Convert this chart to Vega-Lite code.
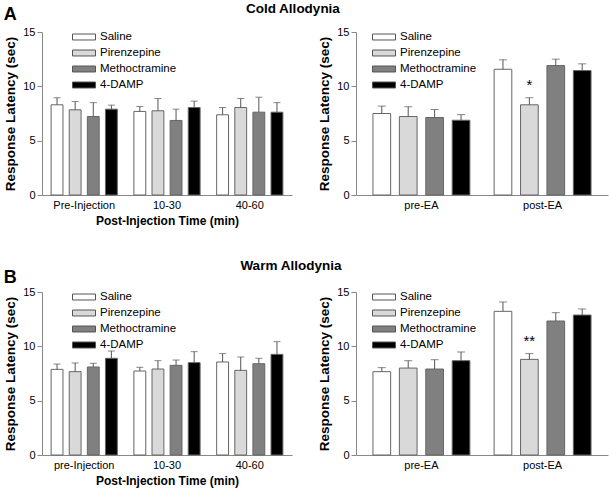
{
  "$schema": "https://vega.github.io/schema/vega-lite/v6.json",
  "padding": {"left": 3, "top": 1, "right": 2, "bottom": 2},
  "datasets": {
    "d": [
      {"panel": "cold_time", "group": "Pre-Injection", "treatment": "Saline", "mean": 8.3, "hi": 8.95},
      {"panel": "cold_time", "group": "Pre-Injection", "treatment": "Pirenzepine", "mean": 7.84, "hi": 8.6},
      {"panel": "cold_time", "group": "Pre-Injection", "treatment": "Methoctramine", "mean": 7.22, "hi": 8.5},
      {"panel": "cold_time", "group": "Pre-Injection", "treatment": "4-DAMP", "mean": 7.9, "hi": 8.27},
      {"panel": "cold_time", "group": "10-30", "treatment": "Saline", "mean": 7.69, "hi": 8.15},
      {"panel": "cold_time", "group": "10-30", "treatment": "Pirenzepine", "mean": 7.75, "hi": 8.88},
      {"panel": "cold_time", "group": "10-30", "treatment": "Methoctramine", "mean": 6.86, "hi": 7.9},
      {"panel": "cold_time", "group": "10-30", "treatment": "4-DAMP", "mean": 8.05, "hi": 8.64},
      {"panel": "cold_time", "group": "40-60", "treatment": "Saline", "mean": 7.38, "hi": 8.05},
      {"panel": "cold_time", "group": "40-60", "treatment": "Pirenzepine", "mean": 8.05, "hi": 8.88},
      {"panel": "cold_time", "group": "40-60", "treatment": "Methoctramine", "mean": 7.62, "hi": 9.0},
      {"panel": "cold_time", "group": "40-60", "treatment": "4-DAMP", "mean": 7.62, "hi": 8.5},
      {"panel": "cold_ea", "group": "pre-EA", "treatment": "Saline", "mean": 7.5, "hi": 8.18},
      {"panel": "cold_ea", "group": "pre-EA", "treatment": "Pirenzepine", "mean": 7.22, "hi": 8.12},
      {"panel": "cold_ea", "group": "pre-EA", "treatment": "Methoctramine", "mean": 7.13, "hi": 7.87},
      {"panel": "cold_ea", "group": "pre-EA", "treatment": "4-DAMP", "mean": 6.88, "hi": 7.4},
      {"panel": "cold_ea", "group": "post-EA", "treatment": "Saline", "mean": 11.57, "hi": 12.44},
      {"panel": "cold_ea", "group": "post-EA", "treatment": "Pirenzepine", "mean": 8.3, "hi": 8.95, "sig": "*"},
      {"panel": "cold_ea", "group": "post-EA", "treatment": "Methoctramine", "mean": 11.91, "hi": 12.5},
      {"panel": "cold_ea", "group": "post-EA", "treatment": "4-DAMP", "mean": 11.45, "hi": 12.07},
      {"panel": "warm_time", "group": "pre-Injection", "treatment": "Saline", "mean": 7.88, "hi": 8.37},
      {"panel": "warm_time", "group": "pre-Injection", "treatment": "Pirenzepine", "mean": 7.67, "hi": 8.47},
      {"panel": "warm_time", "group": "pre-Injection", "treatment": "Methoctramine", "mean": 8.1, "hi": 8.44},
      {"panel": "warm_time", "group": "pre-Injection", "treatment": "4-DAMP", "mean": 8.9, "hi": 9.57},
      {"panel": "warm_time", "group": "10-30", "treatment": "Saline", "mean": 7.73, "hi": 8.07},
      {"panel": "warm_time", "group": "10-30", "treatment": "Pirenzepine", "mean": 7.91, "hi": 8.68},
      {"panel": "warm_time", "group": "10-30", "treatment": "Methoctramine", "mean": 8.25, "hi": 8.74},
      {"panel": "warm_time", "group": "10-30", "treatment": "4-DAMP", "mean": 8.5, "hi": 9.51},
      {"panel": "warm_time", "group": "40-60", "treatment": "Saline", "mean": 8.56, "hi": 9.33},
      {"panel": "warm_time", "group": "40-60", "treatment": "Pirenzepine", "mean": 7.79, "hi": 9.02},
      {"panel": "warm_time", "group": "40-60", "treatment": "Methoctramine", "mean": 8.4, "hi": 8.9},
      {"panel": "warm_time", "group": "40-60", "treatment": "4-DAMP", "mean": 9.26, "hi": 10.43},
      {"panel": "warm_ea", "group": "pre-EA", "treatment": "Saline", "mean": 7.67, "hi": 8.04},
      {"panel": "warm_ea", "group": "pre-EA", "treatment": "Pirenzepine", "mean": 8.0, "hi": 8.68},
      {"panel": "warm_ea", "group": "pre-EA", "treatment": "Methoctramine", "mean": 7.91, "hi": 8.77},
      {"panel": "warm_ea", "group": "pre-EA", "treatment": "4-DAMP", "mean": 8.68, "hi": 9.48},
      {"panel": "warm_ea", "group": "post-EA", "treatment": "Saline", "mean": 13.22, "hi": 14.08},
      {"panel": "warm_ea", "group": "post-EA", "treatment": "Pirenzepine", "mean": 8.8, "hi": 9.33, "sig": "**"},
      {"panel": "warm_ea", "group": "post-EA", "treatment": "Methoctramine", "mean": 12.33, "hi": 13.1},
      {"panel": "warm_ea", "group": "post-EA", "treatment": "4-DAMP", "mean": 12.88, "hi": 13.44}
    ]
  },
  "spacing": 32,
  "resolve": {"scale": {"fill": "independent", "x": "independent", "xOffset": "independent", "y": "independent"}, "legend": {"fill": "independent"}},
  "vconcat": [
    {
      "title": {"text": "Cold Allodynia", "offset": -9, "dx": -13},
      "spacing": 25,
      "resolve": {"scale": {"fill": "independent", "x": "independent", "xOffset": "independent", "y": "independent"}, "legend": {"fill": "independent"}},
      "hconcat": [
        {
          "title": {"text": "A", "anchor": "start", "frame": "bounds", "fontSize": 18, "fontWeight": "bold", "offset": 2},
          "width": 250, "height": 163,
          "data": {"name": "d"},
          "transform": [{"filter": "datum.panel === 'cold_time'"}],
          "encoding": {
            "x": {"field": "group", "type": "nominal", "sort": ["Pre-Injection", "10-30", "40-60"], "scale": {"paddingInner": 0.2, "paddingOuter": 0.11}, "axis": {"title": "Post-Injection Time (min)"}},
            "xOffset": {"field": "treatment", "type": "nominal", "sort": ["Saline", "Pirenzepine", "Methoctramine", "4-DAMP"], "scale": {"paddingInner": 0.345, "paddingOuter": 0}}
          },
          "layer": [
            {"mark": {"type": "bar", "stroke": "#666", "strokeWidth": 1},
             "encoding": {
               "y": {"field": "mean", "type": "quantitative", "scale": {"domain": [0, 15], "nice": false}, "title": "Response Latency (sec)", "axis": {"values": [0, 5, 10, 15]}},
               "fill": {"field": "treatment", "type": "nominal", "sort": ["Saline", "Pirenzepine", "Methoctramine", "4-DAMP"], "scale": {"domain": ["Saline", "Pirenzepine", "Methoctramine", "4-DAMP"], "range": ["#ffffff", "#d9d9d9", "#808080", "#000000"]}, "legend": {"title": null, "orient": "none", "legendX": 30, "legendY": -3}}
             }},
            {"mark": {"type": "rule", "color": "#555"}, "encoding": {"y": {"field": "mean", "type": "quantitative", "title": "Response Latency (sec)"}, "y2": {"field": "hi"}}},
            {"mark": {"type": "tick", "orient": "horizontal", "size": 7, "thickness": 1, "color": "#555"}, "encoding": {"y": {"field": "hi", "type": "quantitative", "title": "Response Latency (sec)"}}}
          ]
        },
        {
          "width": 252, "height": 163,
          "data": {"name": "d"},
          "transform": [{"filter": "datum.panel === 'cold_ea'"}],
          "encoding": {
            "x": {"field": "group", "type": "nominal", "sort": ["pre-EA", "post-EA"], "scale": {"paddingInner": 0.2, "paddingOuter": 0.14}, "axis": {"title": null}},
            "xOffset": {"field": "treatment", "type": "nominal", "sort": ["Saline", "Pirenzepine", "Methoctramine", "4-DAMP"], "scale": {"paddingInner": 0.33, "paddingOuter": 0}}
          },
          "layer": [
            {"mark": {"type": "bar", "stroke": "#666", "strokeWidth": 1},
             "encoding": {
               "y": {"field": "mean", "type": "quantitative", "scale": {"domain": [0, 15], "nice": false}, "title": "Response Latency (sec)", "axis": {"values": [0, 5, 10, 15]}},
               "fill": {"field": "treatment", "type": "nominal", "sort": ["Saline", "Pirenzepine", "Methoctramine", "4-DAMP"], "scale": {"domain": ["Saline", "Pirenzepine", "Methoctramine", "4-DAMP"], "range": ["#ffffff", "#d9d9d9", "#808080", "#000000"]}, "legend": {"title": null, "orient": "none", "legendX": 16, "legendY": -3}}
             }},
            {"mark": {"type": "rule", "color": "#555"}, "encoding": {"y": {"field": "mean", "type": "quantitative", "title": "Response Latency (sec)"}, "y2": {"field": "hi"}}},
            {"mark": {"type": "tick", "orient": "horizontal", "size": 8, "thickness": 1, "color": "#555"}, "encoding": {"y": {"field": "hi", "type": "quantitative", "title": "Response Latency (sec)"}}},
            {"transform": [{"filter": "datum.sig"}], "mark": {"type": "text", "fontSize": 15, "baseline": "bottom", "dy": -5, "color": "#000"}, "encoding": {"y": {"field": "hi", "type": "quantitative", "title": "Response Latency (sec)"}, "text": {"field": "sig"}}}
          ]
        }
      ]
    },
    {
      "title": {"text": "Warm Allodynia", "offset": -3, "dx": -15},
      "spacing": 25,
      "resolve": {"scale": {"fill": "independent", "x": "independent", "xOffset": "independent", "y": "independent"}, "legend": {"fill": "independent"}},
      "hconcat": [
        {
          "title": {"text": "B", "anchor": "start", "frame": "bounds", "fontSize": 18, "fontWeight": "bold", "offset": -1},
          "width": 250, "height": 163,
          "data": {"name": "d"},
          "transform": [{"filter": "datum.panel === 'warm_time'"}],
          "encoding": {
            "x": {"field": "group", "type": "nominal", "sort": ["pre-Injection", "10-30", "40-60"], "scale": {"paddingInner": 0.2, "paddingOuter": 0.11}, "axis": {"title": "Post-Injection Time (min)"}},
            "xOffset": {"field": "treatment", "type": "nominal", "sort": ["Saline", "Pirenzepine", "Methoctramine", "4-DAMP"], "scale": {"paddingInner": 0.345, "paddingOuter": 0}}
          },
          "layer": [
            {"mark": {"type": "bar", "stroke": "#666", "strokeWidth": 1},
             "encoding": {
               "y": {"field": "mean", "type": "quantitative", "scale": {"domain": [0, 15], "nice": false}, "title": "Response Latency (sec)", "axis": {"values": [0, 5, 10, 15]}},
               "fill": {"field": "treatment", "type": "nominal", "sort": ["Saline", "Pirenzepine", "Methoctramine", "4-DAMP"], "scale": {"domain": ["Saline", "Pirenzepine", "Methoctramine", "4-DAMP"], "range": ["#ffffff", "#d9d9d9", "#808080", "#000000"]}, "legend": {"title": null, "orient": "none", "legendX": 30, "legendY": -3}}
             }},
            {"mark": {"type": "rule", "color": "#555"}, "encoding": {"y": {"field": "mean", "type": "quantitative", "title": "Response Latency (sec)"}, "y2": {"field": "hi"}}},
            {"mark": {"type": "tick", "orient": "horizontal", "size": 7, "thickness": 1, "color": "#555"}, "encoding": {"y": {"field": "hi", "type": "quantitative", "title": "Response Latency (sec)"}}}
          ]
        },
        {
          "width": 252, "height": 163,
          "data": {"name": "d"},
          "transform": [{"filter": "datum.panel === 'warm_ea'"}],
          "encoding": {
            "x": {"field": "group", "type": "nominal", "sort": ["pre-EA", "post-EA"], "scale": {"paddingInner": 0.2, "paddingOuter": 0.14}, "axis": {"title": null}},
            "xOffset": {"field": "treatment", "type": "nominal", "sort": ["Saline", "Pirenzepine", "Methoctramine", "4-DAMP"], "scale": {"paddingInner": 0.33, "paddingOuter": 0}}
          },
          "layer": [
            {"mark": {"type": "bar", "stroke": "#666", "strokeWidth": 1},
             "encoding": {
               "y": {"field": "mean", "type": "quantitative", "scale": {"domain": [0, 15], "nice": false}, "title": "Response Latency (sec)", "axis": {"values": [0, 5, 10, 15]}},
               "fill": {"field": "treatment", "type": "nominal", "sort": ["Saline", "Pirenzepine", "Methoctramine", "4-DAMP"], "scale": {"domain": ["Saline", "Pirenzepine", "Methoctramine", "4-DAMP"], "range": ["#ffffff", "#d9d9d9", "#808080", "#000000"]}, "legend": {"title": null, "orient": "none", "legendX": 16, "legendY": -3}}
             }},
            {"mark": {"type": "rule", "color": "#555"}, "encoding": {"y": {"field": "mean", "type": "quantitative", "title": "Response Latency (sec)"}, "y2": {"field": "hi"}}},
            {"mark": {"type": "tick", "orient": "horizontal", "size": 8, "thickness": 1, "color": "#555"}, "encoding": {"y": {"field": "hi", "type": "quantitative", "title": "Response Latency (sec)"}}},
            {"transform": [{"filter": "datum.sig"}], "mark": {"type": "text", "fontSize": 15, "baseline": "bottom", "dy": -5, "color": "#000"}, "encoding": {"y": {"field": "hi", "type": "quantitative", "title": "Response Latency (sec)"}, "text": {"field": "sig"}}}
          ]
        }
      ]
    }
  ],
  "config": {
    "font": "Liberation Sans",
    "view": {"stroke": null},
    "title": {"font": "Liberation Sans", "fontSize": 13.5, "fontWeight": "bold", "color": "#000", "anchor": "middle"},
    "axis": {"labelFont": "Liberation Sans", "labelFontSize": 11, "labelColor": "#000", "titleFont": "Liberation Sans", "titleFontSize": 13.5, "titleFontWeight": "bold", "titleColor": "#000", "domainColor": "#888", "tickColor": "#888", "grid": false},
    "axisX": {"ticks": false, "labelPadding": 4, "titlePadding": 5, "labelAngle": 0, "titleFontSize": 12},
    "axisY": {"tickSize": 5, "labelPadding": 2, "titlePadding": 5},
    "legend": {"labelFont": "Liberation Sans", "labelFontSize": 11.5, "labelColor": "#000", "symbolType": "M-1,-0.26H1V0.26H-1Z", "symbolSize": 529, "symbolStrokeColor": "#555", "symbolStrokeWidth": 1, "symbolOpacity": 1, "labelOffset": 4, "rowPadding": 0, "clipHeight": 16, "direction": "vertical"}
  }
}
